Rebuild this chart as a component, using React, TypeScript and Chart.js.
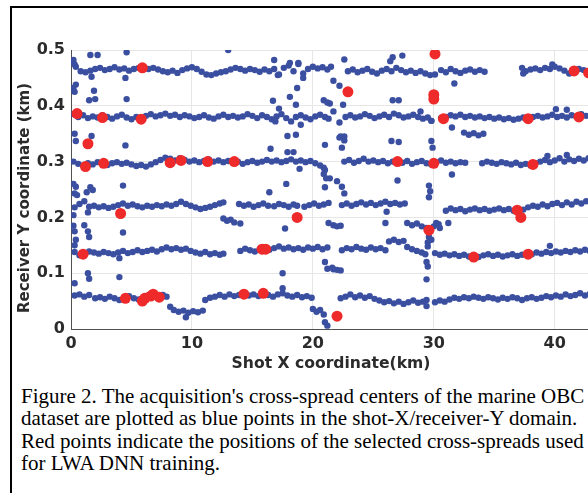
import React, { useEffect, useRef } from "react";
import { Chart, registerables } from "chart.js";

Chart.register(...registerables);

// Receiver-line bands (shot X km, receiver Y km)
const row1: number[][] = [
  [0.1,.478],[0.2,.482],[0.3,.474],[0.4,.470],[0.8,.462],[1.2,.460],[1.6,.463],[2.0,.466],[2.4,.468],[2.8,.464],[3.2,.466],[3.6,.469],[4.0,.465],[4.4,.467],[4.8,.463],[5.2,.466],[5.6,.468],[6.0,.470],[6.4,.466],[6.8,.468],[7.2,.465],[7.6,.462],[8.0,.460],[8.4,.463],[8.8,.459],[9.2,.464],[9.6,.467],[10.0,.469],[10.4,.466],[10.8,.461],[11.2,.456],[11.6,.455],[12.0,.458],[12.4,.460],[12.8,.462],[13.2,.465],[13.6,.468],[14.0,.466],[14.4,.463],[14.8,.466],[15.2,.464],[15.6,.461],[16.0,.465],[16.4,.462],[16.8,.466],[17.2,.456],[17.6,.468],[18.0,.472],[18.4,.462],[18.8,.475],[19.2,.458],[19.6,.466],[20.0,.470],[20.4,.467],[20.8,.469],[21.2,.465],[21.5,.470],
  [22.9,.462],[23.3,.465],[23.7,.460],[24.1,.463],[24.5,.466],[24.9,.461],[25.3,.458],[25.7,.463],[26.1,.466],[26.5,.462],[26.9,.468],[27.3,.464],[27.7,.460],[28.1,.463],[28.5,.459],[28.9,.462],[29.3,.458],[29.7,.455],[30.1,.456],
  [30.6,.464],[31.0,.460],[31.4,.466],[31.8,.462],[32.2,.459],[32.6,.463],[33.0,.465],[33.4,.461],[33.8,.464],[34.2,.461],
  [37.3,.468],[37.4,.458],[37.6,.462],[38.0,.465],[38.4,.467],[38.8,.464],[39.2,.468],[39.6,.466],[39.8,.474],[40.0,.470],[40.4,.467],[40.8,.463],[41.2,.458],[41.6,.461],[42.0,.466],[42.4,.464],[42.8,.462],
];

const row2: number[][] = [
  [0.2,.385],[0.6,.380],[1.0,.383],[1.4,.378],[1.8,.381],[2.2,.379],[2.6,.383],[3.0,.380],[3.4,.377],[3.8,.381],[4.2,.384],[4.6,.379],[5.0,.376],[5.4,.380],[5.8,.378],[6.2,.382],[6.6,.385],[7.0,.381],[7.4,.383],[7.8,.386],[8.2,.382],[8.6,.384],[9.0,.380],[9.4,.383],[9.8,.381],[10.2,.378],[10.6,.380],[11.0,.383],[11.4,.379],[11.8,.377],[12.2,.381],[12.6,.384],[13.0,.380],[13.4,.382],[13.8,.379],[14.2,.381],[14.6,.385],[15.0,.382],[15.4,.378],[15.8,.383],[16.2,.380],[16.6,.376],[17.0,.381],[17.4,.385],[17.8,.378],[18.2,.372],[18.6,.380],[19.0,.383],[19.4,.379],[19.8,.376],[20.2,.381],[20.6,.384],[21.0,.380],[21.3,.377],
  [22.7,.380],[23.1,.383],[23.5,.379],[23.9,.381],[24.3,.385],[24.7,.382],[25.1,.378],[25.5,.381],[25.9,.384],[26.3,.380],[26.7,.386],[27.1,.383],[27.5,.379],[27.9,.381],[28.3,.384],[28.7,.380],[28.9,.390],[29.1,.377],[29.5,.379],[29.8,.373],
  [30.6,.378],[31.0,.380],[31.4,.383],[31.8,.381],[32.2,.384],[32.6,.380],[33.0,.382],[33.4,.379],[33.8,.381],[34.2,.378],[34.6,.380],[35.0,.377],[35.4,.379],[35.8,.376],[36.2,.378],[36.6,.375],[37.0,.377],[37.4,.379],[37.8,.376],[38.2,.380],[38.6,.382],[39.0,.379],[39.4,.381],[39.8,.384],[40.1,.394],[40.2,.380],[40.6,.382],[41.0,.379],[41.0,.393],[41.4,.383],[41.8,.381],[42.2,.385],[42.6,.382],[43.0,.384],
  [32.5,.352],[32.9,.348],[33.3,.351],[33.7,.347],[34.1,.350],
];

const row3: number[][] = [
  [0.2,.300],[0.6,.296],[1.0,.293],[1.4,.297],[1.8,.295],[2.2,.299],[2.6,.296],[3.0,.294],[3.4,.297],[3.8,.299],[4.2,.296],[4.6,.298],[5.0,.295],[5.4,.292],[5.8,.294],[6.2,.291],[6.6,.295],[7.0,.299],[7.4,.303],[7.8,.307],[8.2,.305],[8.6,.302],[9.0,.306],[9.4,.303],[9.8,.300],[10.2,.302],[10.6,.299],[11.0,.301],[11.4,.304],[11.8,.300],[12.2,.302],[12.6,.299],[13.0,.301],[13.4,.298],[13.8,.300],[14.2,.296],[14.6,.299],[15.0,.301],[15.4,.298],[15.8,.300],[16.2,.303],[16.6,.300],[17.0,.302],[17.4,.299],[17.8,.301],[18.2,.304],[18.6,.300],[19.0,.302],[19.4,.299],[19.8,.301],[20.2,.297],[20.6,.293],[21.0,.285],
  [22.6,.300],[23.0,.303],[23.4,.298],[23.8,.301],[24.2,.305],[24.6,.300],[25.0,.302],[25.4,.299],[25.8,.301],[26.2,.297],[26.6,.300],[27.0,.302],[27.4,.298],[27.8,.301],[28.2,.296],[28.6,.299],[29.0,.301],[29.4,.297],[29.8,.295],[30.2,.299],[30.6,.302],[31.0,.298],[31.4,.300],[31.8,.297],[32.2,.299],[32.6,.298],
  [34.0,.297],[34.4,.300],[34.8,.298],[35.2,.296],[35.6,.299],[36.0,.297],[36.4,.295],[36.8,.298],[37.2,.294],[37.6,.296],[38.0,.293],[38.4,.297],[38.8,.300],[39.2,.303],[39.4,.310],[39.6,.299],[40.0,.302],[40.4,.306],[40.8,.300],[41.0,.312],[41.2,.304],[41.6,.301],[42.0,.305],[42.4,.302],[42.8,.306],
];

const row4: number[][] = [
  [0.3,.218],[0.7,.224],[1.1,.229],[1.5,.219],[1.9,.221],[2.3,.218],[2.7,.220],[3.1,.217],[3.5,.219],[3.9,.222],[4.3,.225],[4.7,.221],[5.1,.223],[5.5,.220],[5.9,.218],[6.3,.221],[6.7,.219],[7.1,.222],[7.5,.220],[7.9,.223],[8.3,.221],[8.7,.224],[9.1,.228],[9.5,.224],[9.9,.221],[10.3,.218],[10.7,.215],[11.1,.217],[11.5,.219],[11.9,.222],[12.3,.225],[12.6,.227],
  [13.9,.224],[14.3,.221],[14.7,.223],[15.1,.219],[15.5,.222],[15.9,.225],[16.3,.221],
  [16.8,.220],[17.2,.224],[17.6,.222],[18.0,.219],[18.4,.223],[18.7,.221],
  [19.3,.219],[19.7,.222],[20.1,.225],[20.5,.221],[20.9,.223],[21.3,.226],
  [22.4,.222],[22.8,.225],[23.2,.221],[23.6,.224],[24.0,.227],[24.4,.223],[24.8,.226],[25.2,.222],[25.6,.225],[26.0,.228],[26.4,.224],[26.8,.226],[27.2,.223],[27.6,.225],
  [31.0,.212],[31.4,.216],[31.8,.213],[32.2,.215],[32.6,.211],[33.0,.214],[33.4,.216],[33.8,.213],[34.2,.215],[34.6,.212],[35.0,.214],[35.4,.216],[35.8,.213],[36.2,.215],[36.6,.212],[37.4,.214],[37.8,.218],[38.2,.221],[38.6,.219],[39.0,.223],[39.4,.220],[39.8,.224],[40.2,.226],[40.6,.222],[41.0,.227],[41.4,.223],[41.8,.228],[42.2,.225],[42.6,.229],[43.0,.226],
  [27.8,.190],[28.2,.186],[28.6,.189],[29.0,.184],[29.4,.181],[30.0,.184],[30.4,.188],
  [12.6,.198],[12.9,.194],[13.2,.196],[13.5,.191],[14.0,.189],
  [21.3,.190],[21.7,.186],[22.0,.184],[22.3,.185],
];

const row5: number[][] = [
  [0.3,.138],[0.7,.132],[1.1,.135],[1.5,.139],[1.9,.137],[2.3,.135],[2.7,.138],[3.1,.136],[3.5,.134],[3.9,.137],[4.3,.140],[4.7,.136],[5.1,.138],[5.5,.141],[5.9,.138],[6.3,.140],[6.7,.142],[7.1,.139],[7.5,.143],[7.9,.146],[8.3,.143],[8.7,.145],[9.1,.142],[9.5,.144],[9.9,.140],[10.3,.137],[10.7,.135],[11.1,.138],[11.5,.134],[11.9,.136],[12.3,.133],[12.6,.135],
  [14.0,.140],[14.4,.144],[14.8,.141],[15.2,.139],[15.6,.143],[16.0,.146],[16.4,.142],[16.8,.145],[17.2,.148],[17.6,.144],[18.0,.146],[18.4,.143],[18.8,.145],[19.2,.142],[19.6,.146],[20.0,.144],[20.4,.147],[20.8,.143],[21.2,.146],
  [22.4,.141],[22.8,.145],[23.2,.143],[23.6,.147],[24.0,.144],[24.4,.142],[24.8,.146],[25.2,.143],[25.6,.145],[26.0,.141],
  [26.3,.157],[26.7,.160],[27.1,.156],[27.5,.158],[27.8,.147],[28.2,.143],[28.6,.140],[29.0,.137],[29.3,.134],
  [30.1,.136],[30.5,.133],[30.9,.135],[31.3,.132],[31.7,.134],[32.1,.131],[32.5,.133],[32.9,.130],[33.3,.132],[33.7,.129],[34.1,.132],[34.5,.134],[34.9,.131],[35.3,.133],[35.7,.130],[36.1,.132],[36.5,.134],[36.9,.131],[37.3,.133],[37.7,.136],[38.1,.134],[38.5,.137],[38.9,.135],[39.3,.138],[39.6,.149],[39.7,.136],[40.1,.139],[40.5,.137],[40.9,.140],[41.3,.138],[41.7,.141],[42.1,.139],[42.5,.142],[42.9,.140],
];

const row6: number[][] = [
  [0.3,.060],[0.7,.062],[1.1,.058],[1.5,.061],[2.0,.055],[2.4,.057],[2.8,.054],[3.2,.058],[3.6,.055],[4.0,.052],[4.4,.056],[4.8,.059],[5.2,.055],[5.6,.053],[6.0,.057],[6.4,.060],[6.8,.062],[7.2,.059],[7.6,.061],[7.9,.058],
  [8.2,.040],[8.5,.034],[8.9,.031],[9.3,.033],[9.5,.021],[9.7,.029],[10.1,.032],[10.5,.030],[10.9,.033],
  [11.1,.052],[11.5,.056],[11.9,.058],[12.3,.061],[12.7,.058],[13.1,.062],[13.5,.059],[13.9,.061],[14.3,.063],[14.7,.060],[15.1,.062],[15.5,.059],[15.9,.063],[16.3,.061],[16.7,.058],[17.1,.062],[17.5,.064],[17.9,.060],[18.3,.058],[18.7,.061],[19.1,.057],[19.5,.059],[19.9,.056],
  [20.0,.036],[20.3,.031],[20.6,.034],[20.9,.026],[21.0,.012],[21.2,.006],
  [22.3,.055],[22.7,.058],[23.1,.062],[23.5,.057],[23.9,.060],[24.3,.056],[24.7,.059],[25.1,.054],[25.5,.051],[25.9,.048],[26.3,.050],[26.7,.046],[27.1,.049],[27.5,.045],[27.9,.048],[28.3,.051],[28.7,.047],[29.1,.049],[29.4,.052],
  [30.1,.048],[30.5,.051],[30.9,.049],[31.3,.053],[31.7,.056],[32.1,.054],[32.5,.057],[32.9,.055],[33.3,.058],[33.7,.056],[34.1,.054],[34.5,.057],[34.9,.055],[35.3,.053],[35.7,.056],[36.1,.054],[36.5,.057],[36.9,.055],[37.3,.052],[37.7,.055],[38.1,.057],[38.5,.054],[38.9,.056],[39.3,.059],[39.7,.057],[40.1,.060],[40.5,.058],[40.9,.062],[41.3,.059],[41.7,.061],[42.1,.064],[42.5,.060],[42.9,.063],
];

// Isolated cross-spread centres between the bands
const scatterBlue: number[][] = [
  [1.6,.491],[2.2,.491],[4.6,.496],[13.0,.500],[16.8,.482],[18.1,.477],[18.8,.477],[22.6,.483],[26.6,.487],[27.4,.490],[26.4,.480],
  [0.2,.432],[0.3,.425],[0.4,.438],[1.9,.427],[1.5,.410],[2.0,.412],[4.6,.412],[4.5,.450],[1.7,.452],[31.7,.440],
  [17.1,.455],[19.2,.450],[21.7,.445],[22.2,.436],[16.7,.409],[18.1,.416],[18.7,.432],[18.6,.402],[17.2,.395],[20.9,.410],[21.2,.406],[21.4,.404],[22.5,.402],[21.7,.390],
  [0.3,.350],[0.4,.337],[1.7,.346],[4.5,.329],[16.9,.372],[19.0,.366],[17.9,.346],[18.6,.348],[16.5,.323],[17.9,.317],[18.4,.317],[21.0,.330],[22.2,.370],[22.3,.345],[22.6,.345],[22.4,.325],[26.5,.337],[27.1,.335],[29.8,.337],[29.9,.325],[22.2,.343],[22.6,.338],[26.6,.410],[27.1,.410],[29.8,.373],[31.5,.361],
  [0.2,.260],[0.4,.255],[1.3,.245],[1.6,.254],[1.8,.249],[0.3,.243],[0.5,.240],[4.3,.257],[1.4,.209],[0.2,.204],[18.9,.287],[17.8,.260],[16.4,.245],[21.0,.254],[21.1,.270],[21.4,.270],[22.0,.265],[22.4,.255],[22.6,.243],[27.0,.266],[29.6,.257],[29.7,.247],[29.6,.236],[31.5,.277],[20.9,.289],[20.9,.278],
  [0.2,.185],[0.3,.175],[0.4,.160],[0.3,.150],[1.1,.186],[1.4,.175],[1.5,.165],[4.3,.173],[17.7,.180],[26.1,.210],[26.0,.190],[30.2,.190],[30.5,.181],[31.2,.190],[29.6,.165],[29.8,.160],
  [0.3,.082],[1.4,.100],[1.5,.090],[4.0,.093],[4.0,.127],[17.5,.100],[17.5,.073],[21.0,.120],[21.2,.108],[21.7,.107],[22.0,.106],[22.3,.105],[21.6,.110],[29.4,.089],[29.4,.041],[29.5,.155],[29.5,.148],[29.4,.120],[29.5,.112],
];

// Cross-spreads selected for LWA DNN training
const redPoints: number[][] = [
  [5.9,.468],[0.5,.386],[2.6,.379],[5.8,.376],[1.4,.332],[1.2,.291],[2.7,.297],[8.2,.298],[9.1,.302],[11.3,.300],[13.5,.300],
  [22.9,.425],[30.1,.493],[30.0,.420],[30.0,.412],[30.8,.377],[37.8,.377],[42.0,.380],[41.6,.4625],[42.8,.459],
  [27.0,.300],[30.0,.297],[38.2,.295],[4.1,.207],[1.0,.134],[4.5,.055],[5.9,.050],[6.1,.055],[6.6,.059],[6.8,.0625],[7.3,.057],
  [18.7,.200],[15.8,.143],[16.1,.143],[14.3,.0625],[15.9,.064],[22.0,.023],[29.6,.177],[36.9,.213],[37.2,.200],[33.3,.129],[37.8,.134],
];

const xTicks = [0, 10, 20, 30, 40];
const yTicks = [0, 0.1, 0.2, 0.3, 0.4, 0.5];

const xTitle = "Shot X coordinate(km)";
const yTitle = "Receiver Y coordinate (km)";
const captionLines = [
  "Figure 2. The acquisition's cross-spread centers of the marine OBC",
  "dataset are plotted as blue points in the shot-X/receiver-Y domain.",
  "Red points indicate the positions of the selected cross-spreads used",
  "for LWA DNN training.",
];

const toXY = (arr: number[][]) => arr.map(([x, y]) => ({ x, y }));

export default function App() {
  const ref = useRef<HTMLCanvasElement | null>(null);

  useEffect(() => {
    if (!ref.current) return;
    const blue = [...row1, ...row2, ...row3, ...row4, ...row5, ...row6, ...scatterBlue];
    const yTitlePlugin = {
      id: "yTitle",
      afterDraw(chart: any) {
        const ctx = chart.ctx;
        ctx.save();
        ctx.translate(25, 198);
        ctx.rotate(-Math.PI / 2);
        ctx.font = "bold 15px 'DejaVu Sans'";
        ctx.fillStyle = "#2b2b2b";
        ctx.textAlign = "center";
        ctx.textBaseline = "middle";
        ctx.fillText(yTitle, 0, 0);
        ctx.restore();
      },
    };
    const chart = new Chart(ref.current, {
      type: "scatter",
      data: {
        datasets: [
          {
            data: toXY(redPoints),
            backgroundColor: "#ee2a2a",
            pointRadius: 5.5,
            pointBorderWidth: 0,
          },
          {
            data: toXY(blue),
            backgroundColor: "#3b4fa1",
            pointRadius: 3.2,
            pointBorderWidth: 0,
          },
        ],
      },
      options: {
        responsive: false,
        animation: false,
        events: [],
        layout: { padding: { left: 0, top: 50, right: 9, bottom: 0 } },
        plugins: { legend: { display: false }, tooltip: { enabled: false } },
        scales: {
          x: {
            type: "linear",
            min: 0,
            max: 43,
            afterBuildTicks: (s: any) => { s.ticks = xTicks.map((v) => ({ value: v })); },
            afterFit: (s: any) => { s.height = 51; },
            grid: { color: "#e6e6e6", drawTicks: false },
            border: { color: "#505050", width: 1 },
            ticks: {
              padding: 5,
              color: "#2b2b2b",
              font: { family: "'DejaVu Sans'", size: 16, weight: "bold" },
            },
            title: {
              display: true,
              text: xTitle,
              color: "#2b2b2b",
              font: { family: "'DejaVu Sans'", size: 15.6, weight: "bold" },
              padding: { top: 0, bottom: 7 },
            },
          },
          y: {
            type: "linear",
            min: 0,
            max: 0.5,
            afterBuildTicks: (s: any) => { s.ticks = yTicks.map((v) => ({ value: v })); },
            afterFit: (s: any) => { s.width = 71; },
            grid: { color: "#e6e6e6", drawTicks: false },
            border: { color: "#505050", width: 1 },
            ticks: {
              padding: 6,
              color: "#2b2b2b",
              font: { family: "'DejaVu Sans'", size: 16, weight: "bold" },
            },
          },
        },
      },
      plugins: [yTitlePlugin],
    });
    return () => chart.destroy();
  }, []);

  return (
    <div style={{ position: "fixed", left: 0, top: 0, width: 588, height: 493, overflow: "hidden", background: "#fff" }}>
      <div style={{ position: "absolute", left: 10, top: 6, width: 700, height: 600, borderLeft: "2px solid #000", borderTop: "2px solid #000" }} />
      <canvas ref={ref} width={600} height={380} style={{ position: "absolute", left: 0, top: 0, width: 600, height: 380 }} />
      <div style={{ position: "absolute", left: 21, top: 384.6, fontFamily: "'Liberation Serif', 'Times New Roman', serif", fontSize: 21, lineHeight: "22.6px", color: "#000", whiteSpace: "nowrap" }}>
        {captionLines.map((l, i) => (<div key={i}>{l}</div>))}
      </div>
    </div>
  );
}
